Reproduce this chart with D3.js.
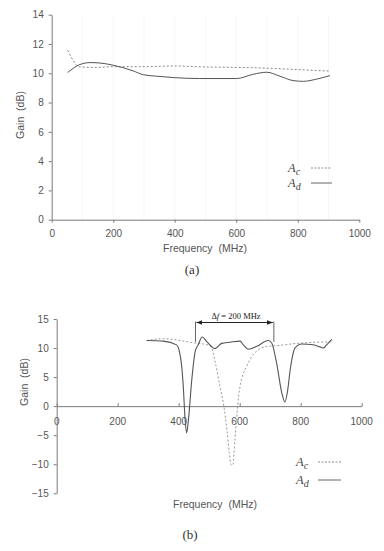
<!DOCTYPE html>
<html><head><meta charset="utf-8">
<script src="https://cdn.jsdelivr.net/npm/d3@7"></script>
<style>body{margin:0;background:#fff}svg{display:block}text{white-space:pre}</style>
</head><body><svg id="c" width="384" height="551"></svg>
<script>
// Panel (a)
const freqA_c = [52, 92, 150, 200, 300, 400, 500, 600, 700, 800, 900];
const gainA_c = [11.57, 10.43, 10.4, 10.45, 10.45, 10.5, 10.43, 10.4, 10.35, 10.25, 10.15];
const freqA_d = [52, 92, 125, 157, 200, 265, 298, 341, 400, 481, 601, 655, 699, 742, 785, 818, 861, 905];
const gainA_d = [10.05, 10.6, 10.73, 10.7, 10.55, 10.16, 9.9, 9.8, 9.7, 9.64, 9.64, 9.93, 10.07, 9.8, 9.5, 9.45, 9.6, 9.84];
// Panel (b)
const freqB_c = [295, 350, 404, 448, 490, 505, 520, 535, 548, 558, 566, 572, 578, 584, 590, 596, 606, 623, 639, 661, 690, 720, 787, 850, 905];
const gainB_c = [11.3, 11.6, 11.3, 10.9, 10.6, 10.3, 7.5, 3.5, 0, -4, -8, -10.2, -10, -6, -2, 1.5, 4.6, 6.85, 8.5, 9.7, 10.3, 10.4, 10.8, 11.0, 11.05];
const freqB_d = [295, 350, 393, 401, 410, 415, 421, 426, 432, 443, 454, 464, 477, 492, 519, 541, 568, 601, 612, 628, 656, 694, 705, 721, 738, 748, 756, 767, 781, 803, 841, 863, 874, 885, 902];
const gainB_d = [11.3, 11.2, 10.55, 9.7, 6.8, 3.4, -2.3, -4.6, -2.3, 4.6, 9.4, 10.55, 11.9, 11.1, 9.9, 10.8, 11.0, 11.2, 10.56, 9.8, 10.3, 11.3, 10.86, 7.4, 2.3, 0.7, 2.3, 6.8, 10.0, 10.7, 10.56, 10.2, 10.0, 10.56, 11.5];
const xTicks = [0, 200, 400, 600, 800, 1000];
const yTicksA = [0, 2, 4, 6, 8, 10, 12, 14];
const yTicksB = [-15, -10, -5, 0, 5, 10, 15];
const bracket = [455, 712];

const svg = d3.select('#c');
const sans = '"Liberation Sans", Arial, sans-serif';
const serif = '"Liberation Serif", "Times New Roman", serif';
const axisCol = '#7a7a7a', txtCol = '#555';
const fmt = d3.format('d');

function styleAxis(g){
  g.select('.domain').attr('stroke', axisCol);
  g.selectAll('.tick line').attr('stroke', axisCol);
  g.selectAll('.tick text').attr('fill', txtCol).style('font-family', sans).attr('font-size', 10);
}
function legend(x, y, lineX1, lineX2, sub, dash){
  const t = svg.append('text').attr('x', x).attr('y', y).style('font-family', serif)
    .attr('font-style','italic').attr('font-size', 12.5).attr('fill', '#444');
  t.append('tspan').text('A');
  t.append('tspan').attr('dy', 3).attr('font-size', 10).text(sub);
  svg.append('line').attr('x1', lineX1).attr('x2', lineX2).attr('y1', y-4).attr('y2', y-4)
    .attr('stroke', dash ? '#888' : '#666').attr('stroke-width', 1).attr('stroke-dasharray', dash ? '2,1.5' : null);
}

// ---------- Panel (a)
const xa = d3.scaleLinear().domain([0,1000]).range([51.7, 359.3]);
const ya = d3.scaleLinear().domain([0,14]).range([219.7, 14.7]);
svg.append('g').selectAll('line').data(d3.range(100,1000,100)).join('line')
  .attr('x1', d=>xa(d)).attr('x2', d=>xa(d)).attr('y1', ya(14)).attr('y2', ya(0)).attr('stroke', '#f6f6f6');
svg.append('g').attr('transform', `translate(0,${ya(0)})`)
  .call(d3.axisBottom(xa).tickValues(xTicks).tickFormat(fmt).tickSize(3).tickPadding(7).tickSizeOuter(0)).call(styleAxis);
svg.append('g').attr('transform', `translate(${xa(0)},0)`)
  .call(d3.axisLeft(ya).tickValues(yTicksA).tickFormat(fmt).tickSize(3).tickPadding(5).tickSizeOuter(0)).call(styleAxis);
const lineA = d3.line().x(d=>xa(d[0])).y(d=>ya(d[1])).curve(d3.curveMonotoneX);
svg.append('path').datum(d3.zip(freqA_c, gainA_c)).attr('d', lineA).attr('fill','none')
  .attr('stroke','#888').attr('stroke-width',1).attr('stroke-dasharray','2,2');
svg.append('path').datum(d3.zip(freqA_d, gainA_d)).attr('d', lineA).attr('fill','none')
  .attr('stroke','#555').attr('stroke-width',1);
svg.append('text').attr('x', 205).attr('y', 252).attr('text-anchor','middle').style('font-family', sans)
  .attr('font-size', 10.5).attr('fill', txtCol).text('Frequency  (MHz)');
svg.append('text').attr('transform', 'translate(24,115) rotate(-90)').attr('text-anchor','middle')
  .style('font-family', sans).attr('font-size', 10.5).attr('fill', txtCol).text('Gain  (dB)');
svg.append('text').attr('x', 192).attr('y', 274).attr('text-anchor','middle').style('font-family', serif)
  .attr('font-size', 13).attr('fill', '#333').text('(a)');
legend(288, 172, 311, 332, 'c', true);
legend(288, 187, 311, 332, 'd', false);

// ---------- Panel (b)
const xb = d3.scaleLinear().domain([0,1000]).range([56.7, 361.7]);
const yb = d3.scaleLinear().domain([-15,15]).range([493.3, 319]);
svg.append('g').attr('transform', `translate(0,${yb(0)})`)
  .call(d3.axisTop(xb).tickValues(xTicks).tickSize(3).tickFormat(()=>'' ).tickSizeOuter(0)).call(styleAxis);
svg.append('g').selectAll('text').data(xTicks).join('text')
  .attr('x', d=>xb(d)).attr('y', yb(0)+19).attr('text-anchor','middle')
  .style('font-family', sans).attr('font-size', 10).attr('fill', txtCol).text(d=>fmt(d));
svg.append('g').attr('transform', `translate(${xb(0)},0)`)
  .call(d3.axisLeft(yb).tickValues(yTicksB).tickFormat(fmt).tickSize(3).tickPadding(5).tickSizeOuter(0)).call(styleAxis);
const lineB = d3.line().x(d=>xb(d[0])).y(d=>yb(d[1])).curve(d3.curveMonotoneX);
svg.append('path').datum(d3.zip(freqB_c, gainB_c)).attr('d', lineB).attr('fill','none')
  .attr('stroke','#999').attr('stroke-width',1).attr('stroke-dasharray','2,2');
svg.append('path').datum(d3.zip(freqB_d, gainB_d)).attr('d', lineB).attr('fill','none')
  .attr('stroke','#555').attr('stroke-width',1.1);
const defs = svg.append('defs');
defs.append('marker').attr('id','ah').attr('viewBox','0 0 10 10').attr('refX',10).attr('refY',5)
  .attr('markerWidth',6).attr('markerHeight',6).attr('orient','auto-start-reverse')
  .append('path').attr('d','M0,1L10,5L0,9Z').attr('fill','#222');
bracket.forEach(f=>{
  svg.append('line').attr('x1', xb(f)).attr('x2', xb(f)).attr('y1', 321.5).attr('y2', 342)
    .attr('stroke', '#666').attr('stroke-width', 1);
});
svg.append('line').attr('x1', xb(bracket[0])+1).attr('x2', xb(bracket[1])-1).attr('y1', 322.5).attr('y2', 322.5)
  .attr('stroke','#222').attr('stroke-width',1).attr('marker-start','url(#ah)').attr('marker-end','url(#ah)');
const dt = svg.append('text').attr('x', 236).attr('y', 319).attr('text-anchor','middle').style('font-family', serif)
  .attr('font-size', 8.5).attr('fill','#222');
dt.append('tspan').text('Δ');
dt.append('tspan').attr('font-style','italic').text('f');
dt.append('tspan').text(' = 200 MHz');
svg.append('text').attr('x', 215).attr('y', 508).attr('text-anchor','middle').style('font-family', sans)
  .attr('font-size', 10.5).attr('fill', txtCol).text('Frequency  (MHz)');
svg.append('text').attr('transform', 'translate(28,382) rotate(-90)').attr('text-anchor','middle')
  .style('font-family', sans).attr('font-size', 10.5).attr('fill', txtCol).text('Gain  (dB)');
svg.append('text').attr('x', 190).attr('y', 539).attr('text-anchor','middle').style('font-family', serif)
  .attr('font-size', 13).attr('fill', '#333').text('(b)');
legend(296, 466, 318, 341, 'c', true);
legend(296, 484, 318, 341, 'd', false);
</script></body></html>
